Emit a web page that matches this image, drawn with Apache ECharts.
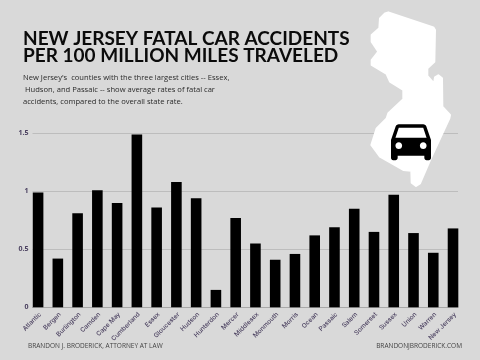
<!DOCTYPE html>
<html>
<head>
<meta charset="utf-8">
<style>html,body{margin:0;padding:0;background:#d9d9d9}#c{width:480px;height:360px}</style>
<script src="https://cdn.jsdelivr.net/npm/echarts@6/dist/echarts.min.js"></script>
</head>
<body>
<div id="c"></div>
<script>
const categories = ["Atlantic","Bergen","Burlington","Camden","Cape May","Cumberland","Essex","Gloucester","Hudson","Hunterdon","Mercer","Middlesex","Monmouth","Morris","Ocean","Passaic","Salem","Somerset","Sussex","Union","Warren","New Jersey"];
const rates = [0.99,0.42,0.81,1.01,0.90,1.49,0.86,1.08,0.94,0.15,0.77,0.55,0.41,0.46,0.62,0.69,0.85,0.65,0.97,0.64,0.47,0.68];
const titleLines = ["NEW JERSEY FATAL CAR ACCIDENTS","PER 100 MILLION MILES TRAVELED"];
const subtitleLines = ["New Jersey's  counties with the three largest cities -- Essex,"," Hudson, and Passaic -- show average rates of fatal car","accidents, compared to the overall state rate."];
const footerLeft = "BRANDON J. BRODERICK, ATTORNEY AT LAW";
const footerRight = "BRANDONJBRODERICK.COM";
const statePts = [[145,37],[280,82],[285,90],[283,185],[262,205],[262,228],[282,250],[285,232],[295,226],[306,235],[307,320],[330,345],[328,355],[270,480],[240,550],[228,558],[215,548],[214,512],[190,510],[120,470],[94,435],[110,385],[140,355],[145,340],[190,298],[190,270],[150,245],[140,222],[95,195],[95,180],[115,155],[95,125],[95,105],[118,85],[120,55],[135,40]].map(p=>[340+p[0]/3,p[1]/3]);
const carPath = "M18.92 6.01C18.72 5.42 18.16 5 17.5 5h-11c-.66 0-1.21.42-1.42 1.01L3 12v8c0 .55.45 1 1 1h1c.55 0 1-.45 1-1v-1h12v1c0 .55.45 1 1 1h1c.55 0 1-.45 1-1v-8l-2.08-5.99zM6.5 16c-.83 0-1.5-.67-1.5-1.5S5.67 13 6.5 13s1.5.67 1.5 1.5S7.33 16 6.5 16zm11 0c-.83 0-1.5-.67-1.5-1.5s.67-1.5 1.5-1.5 1.5.67 1.5 1.5-.67 1.5-1.5 1.5zM5 11l1.5-4.5h11L19 11H5z";
echarts.graphic.registerShape("carIcon", echarts.graphic.extendPath(carPath, {}));

const labelColor = "#4b4160";
const graphics = [];
titleLines.forEach((t,i)=>graphics.push({type:"text",z:20,x:23,y:29+i*17.3,style:{text:t,fill:"#0b0b0b",font:"bold 19px Lato"}}));
subtitleLines.forEach((t,i)=>graphics.push({type:"text",z:20,x:23,y:74+i*12.1,style:{text:t,fill:"#2a2a2a",font:"7.6px 'Open Sans'"}}));
graphics.push({type:"text",z:20,x:28,y:342.5,style:{text:footerLeft,fill:"#444",font:"6.5px 'Open Sans'"}});
graphics.push({type:"text",z:20,x:462,y:342.5,style:{text:footerRight,fill:"#444",font:"6.5px 'Open Sans'",align:"right"}});
graphics.push({type:"polygon",z:10,shape:{points:statePts},style:{fill:"#fff",stroke:"#fff",lineWidth:2,lineJoin:"round"}});
graphics.push({type:"carIcon",z:11,x:391-3*40/18,y:124.3-5*36/16,scaleX:40/18,scaleY:36/16,style:{fill:"#000"}});

const chart = echarts.init(document.getElementById("c"),null,{renderer:"canvas"});
chart.setOption({
  backgroundColor:"#d9d9d9",
  animation:false,
  grid:[
    {left:32.5,right:22,top:133.3,bottom:52.7},
    {left:28.2,right:17.1,top:133.3,bottom:52.7}
  ],
  xAxis:[
    {gridIndex:0,type:"category",data:categories,axisLine:{lineStyle:{color:"#a8a8a8",width:1}},axisTick:{show:false},axisLabel:{show:false}},
    {gridIndex:1,type:"category",data:categories,axisLine:{show:false},axisTick:{show:false},
      axisLabel:{interval:0,rotate:45,fontSize:6.4,fontWeight:500,margin:4,align:"right",verticalAlign:"top",color:labelColor,fontFamily:"Inter"}}
  ],
  yAxis:[
    {gridIndex:0,type:"value",min:0,max:1.5,interval:0.5,axisLine:{show:false},axisTick:{show:false},
      splitLine:{lineStyle:{color:"#bdbdbd",width:1}},
      axisLabel:{margin:4,fontSize:7,fontWeight:"bold",color:labelColor,fontFamily:"'Open Sans'"}},
    {gridIndex:1,type:"value",min:0,max:1.5,interval:0.5,show:false,splitLine:{show:false}}
  ],
  series:[{type:"bar",xAxisIndex:1,yAxisIndex:1,data:rates,barWidth:10.6,itemStyle:{color:"#000"},silent:true}],
  graphic:graphics
});
</script>
</body>
</html>
